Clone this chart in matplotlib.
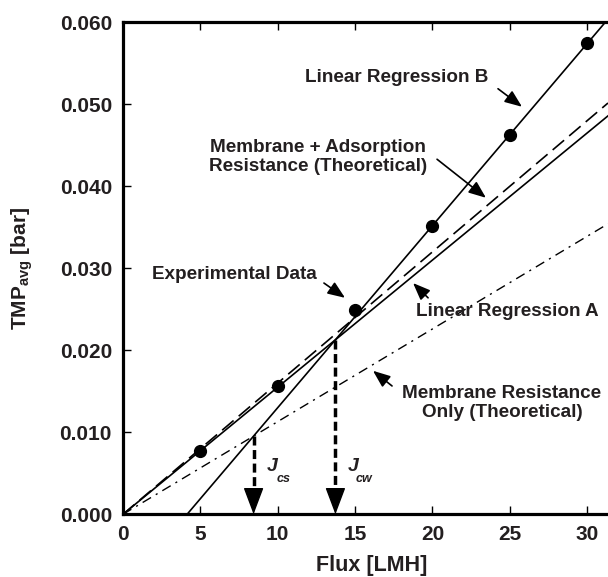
import numpy as np
import matplotlib.pyplot as plt

plt.rcParams['font.family'] = ['Liberation Sans', 'DejaVu Sans']
plt.rcParams['font.weight'] = 'bold'
plt.rcParams['mathtext.fontset'] = 'custom'
plt.rcParams['mathtext.rm'] = 'Liberation Sans:bold'
plt.rcParams['mathtext.bf'] = 'Liberation Sans:bold'

# measured points
flux = [5, 10, 15, 20, 25, 30]
tmp = [0.0077, 0.0156, 0.0249, 0.0352, 0.0463, 0.0575]

# straight lines (slope, intercept)
reg_a = (0.00155, 0.0)
reg_b = (0.00222, -0.0092)
theo_ads = (0.00160, 0.0)
theo_mem = (0.00113, 0.0)

xmax = 31.35
txt = '#231f20'
fs = 13.6

fig = plt.figure(figsize=(6.08, 5.77), dpi=100)
ax = fig.add_axes([0.2023, 0.1087, 1 - 0.2023, 0.8526])

x = np.array([0, xmax])
ax.plot(x, reg_a[0] * x + reg_a[1], color='k', lw=1.2)
xb = np.array([-reg_b[1] / reg_b[0], xmax])
ax.plot(xb, reg_b[0] * xb + reg_b[1], color='k', lw=1.2)
ax.plot(x, theo_ads[0] * x + theo_ads[1], color='k', lw=1.2, dashes=[9, 4])
ax.plot(x, theo_mem[0] * x + theo_mem[1], color='k', lw=1.0, dashes=[7, 4, 1.5, 4])
ax.plot(flux, tmp, 'o', color='k', ms=8.5, zorder=5)

# critical fluxes = intersections of regression B with the other lines
j_cs = (reg_b[1] - theo_mem[1]) / (theo_mem[0] - reg_b[0])
j_cw = (reg_b[1] - reg_a[1]) / (reg_a[0] - reg_b[0])
for jc in (j_cs, j_cw):
    yc = reg_b[0] * jc + reg_b[1]
    ax.plot([jc, jc], [yc, 0.0021], color='k', lw=2.5, dashes=[2.6, 1.3])
    ax.annotate('', xy=(jc, 0), xytext=(jc, 0.0021),
                arrowprops=dict(arrowstyle='-|>,head_length=0.85,head_width=0.32',
                                mutation_scale=20, lw=1, color='k',
                                shrinkA=0, shrinkB=0))

ax.text(9.63, 0.0058, 'J', style='italic', fontsize=14, ha='center', va='center', color=txt)
ax.text(10.4, 0.0043, 'cs', style='italic', fontsize=9, ha='center', va='center', color=txt)
ax.text(14.87, 0.0058, 'J', style='italic', fontsize=14, ha='center', va='center', color=txt)
ax.text(15.6, 0.0043, 'cw', style='italic', fontsize=9, ha='center', va='center', color=txt)

arr = dict(arrowstyle='-|>,head_length=0.75,head_width=0.3', mutation_scale=14,
           lw=1.2, color='k', shrinkA=0, shrinkB=0)
ax.text(17.68, 0.0533, 'Linear Regression B', fontsize=fs, ha='center', va='center', color=txt)
ax.annotate('', xy=(25.79, 0.0497), xytext=(24.24, 0.0519), arrowprops=arr)
ax.text(12.6, 0.0436, 'Membrane + Adsorption\nResistance (Theoretical)', fontsize=fs,
        ha='center', va='center', color=txt, linespacing=1.15)
ax.annotate('', xy=(23.46, 0.0386), xytext=(20.3, 0.0433), arrowprops=arr)
ax.text(7.21, 0.0292, 'Experimental Data', fontsize=fs, ha='center', va='center', color=txt)
ax.annotate('', xy=(14.35, 0.0264), xytext=(12.99, 0.0282), arrowprops=arr)
ax.text(24.82, 0.0247, 'Linear Regression A', fontsize=fs, ha='center', va='center', color=txt)
ax.annotate('', xy=(18.75, 0.0282), xytext=(19.72, 0.0264), arrowprops=arr)
ax.text(24.5, 0.01357, 'Membrane Resistance\nOnly (Theoretical)', fontsize=fs,
        ha='center', va='center', color=txt, linespacing=1.15)
ax.annotate('', xy=(16.16, 0.0175), xytext=(17.39, 0.01565), arrowprops=arr)

ax.set_xlim(0, xmax)
ax.set_ylim(0, 0.06)
ax.set_xticks([0, 5, 10, 15, 20, 25, 30])
ax.set_yticks([0, 0.01, 0.02, 0.03, 0.04, 0.05, 0.06])
ax.set_yticklabels(['%.3f' % v for v in ax.get_yticks()])
ax.tick_params(direction='in', length=6, width=1, top=True, labelsize=15,
               pad=8, labelcolor=txt)
for s in ('left', 'bottom', 'top'):
    ax.spines[s].set_linewidth(2.3)
ax.spines['right'].set_visible(False)

fig.text(372 / 608, 1 - 565 / 577, 'Flux [LMH]', fontsize=15.5, ha='center', va='center', color=txt)
fig.text(22 / 608, 1 - 268 / 577, r'TMP$_{\mathbf{avg}}$ [bar]', fontsize=15, rotation=90,
         ha='center', va='center', color=txt)

fig.savefig('out.png', dpi=100)
